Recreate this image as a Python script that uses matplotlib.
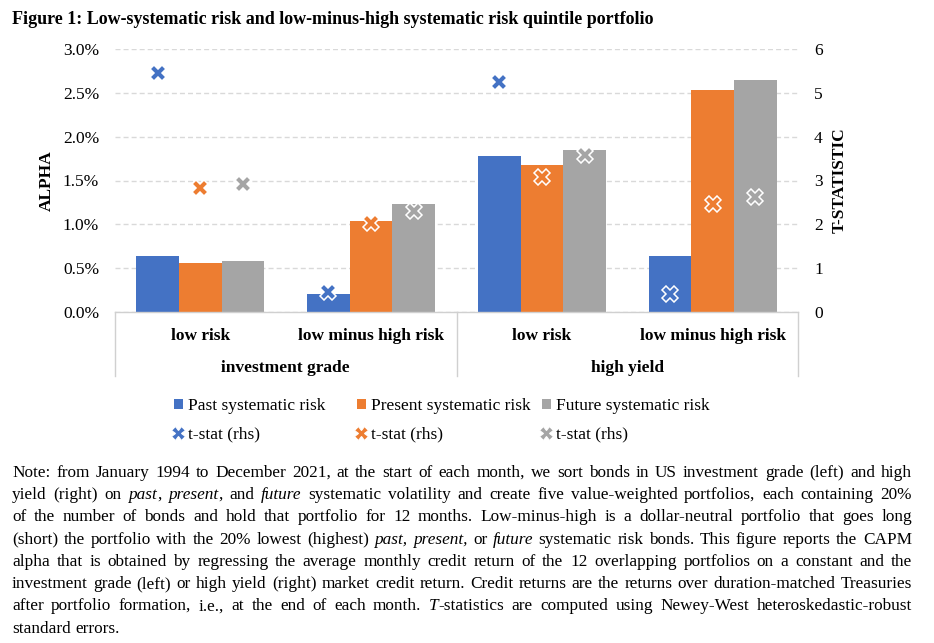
import matplotlib
matplotlib.use('Agg')
import matplotlib.pyplot as plt
from matplotlib.patches import Patch
from matplotlib.lines import Line2D
from matplotlib.transforms import blended_transform_factory
import numpy as np

plt.rcParams['font.family'] = ['Liberation Serif', 'DejaVu Serif']

# ---------------- data ----------------
title = "Figure 1: Low-systematic risk and low-minus-high systematic risk quintile portfolio"
categories = ['low risk', 'low minus high risk', 'low risk', 'low minus high risk']
groups = ['investment grade', 'high yield']
series_names = ['Past systematic risk', 'Present systematic risk', 'Future systematic risk']
alpha_past = [0.64, 0.20, 1.78, 0.64]
alpha_present = [0.56, 1.04, 1.68, 2.53]
alpha_future = [0.585, 1.23, 1.85, 2.645]
tstat_past = [5.45, 0.45, 5.24, 0.41]
tstat_present = [2.82, 2.02, 3.09, 2.47]
tstat_future = [2.93, 2.31, 3.58, 2.62]
tstat_label = 't-stat (rhs)'
alpha_ticks = [0.0, 0.5, 1.0, 1.5, 2.0, 2.5, 3.0]
tstat_ticks = [0, 1, 2, 3, 4, 5, 6]
left_label = 'ALPHA'
right_label = 'T-STATISTIC'
colors = ['#4472C4', '#ED7D31', '#A5A5A5']

# note text: each line is a list of words, each word a list of (segment, italic)
note_lines = [
    "Note: from January 1994 to December 2021, at the start of each month, we sort bonds in US investment grade (left) and high",
    "yield (right) on _past_, _present_, and _future_ systematic volatility and create five value-weighted portfolios, each containing 20%",
    "of the number of bonds and hold that portfolio for 12 months. Low-minus-high is a dollar-neutral portfolio that goes long",
    "(short) the portfolio with the 20% lowest (highest) _past,_ _present,_ or _future_ systematic risk bonds. This figure reports the CAPM",
    "alpha that is obtained by regressing the average monthly credit return of the 12 overlapping portfolios on a constant and the",
    "investment grade (left) or high yield (right) market credit return. Credit returns are the returns over duration-matched Treasuries",
    "after portfolio formation, i.e., at the end of each month. _T_-statistics are computed using Newey-West heteroskedastic-robust",
    "standard errors.",
]

# ---------------- figure ----------------
W, H = 934, 643
fig = plt.figure(figsize=(W / 100, H / 100), dpi=100)
fig.patch.set_facecolor('white')

ax_l, ax_r, ax_t, ax_b = 115, 798, 49, 312
ax = fig.add_axes([ax_l / W, 1 - ax_b / H, (ax_r - ax_l) / W, (ax_b - ax_t) / H])
ax2 = ax.twinx()

x = np.arange(len(categories))
alpha_series = [alpha_past, alpha_present, alpha_future]
tstat_series = [tstat_past, tstat_present, tstat_future]
bw = 0.25
for i, (vals, c) in enumerate(zip(alpha_series, colors)):
    ax.bar(x + (i - 1) * bw, vals, width=bw, color=c, linewidth=0, zorder=2)

for i, (vals, c) in enumerate(zip(tstat_series, colors)):
    ax2.plot(x + (i - 1) * bw, vals, ls='none', marker='X', ms=11.5,
             mfc=c, mec='white', mew=1.1, clip_on=False, zorder=3)

ax.set_xlim(-0.5, len(categories) - 0.5)
ax.set_ylim(alpha_ticks[0], alpha_ticks[-1])
ax2.set_ylim(tstat_ticks[0], tstat_ticks[-1])
ax.set_yticks(alpha_ticks)
ax.set_yticklabels([f"{v:.1f}%" for v in alpha_ticks])
ax2.set_yticks(tstat_ticks)
ax2.set_yticklabels([str(v) for v in tstat_ticks])

fs = 12.5
ax.tick_params(axis='y', length=0, pad=11.5, labelsize=fs)
ax2.tick_params(axis='y', length=0, pad=11.5, labelsize=fs)
ax.tick_params(axis='x', bottom=False, labelbottom=False)
ax2.tick_params(axis='x', bottom=False, labelbottom=False)

ax.set_axisbelow(True)
ax.yaxis.grid(True, color='#d9d9d9', linewidth=1.0, linestyle=(0, (3.6, 2.2)))
ax.xaxis.grid(False)
for s in ['top', 'left', 'right']:
    ax.spines[s].set_visible(False)
for s in ax2.spines.values():
    s.set_visible(False)
ax.spines['bottom'].set_color('#d0d0d0')
ax.spines['bottom'].set_linewidth(1.0)
ax.spines['bottom'].set_zorder(4)

# multi-level category axis
ah = ax_b - ax_t
trans = blended_transform_factory(ax.transData, ax.transAxes)
per_group = len(categories) // len(groups)
bounds = np.arange(len(groups) + 1) * per_group - 0.5
for b in bounds:
    ax.plot([b, b], [0, -64 / ah], transform=trans, color='#d0d0d0', lw=1.0, clip_on=False)
for i, cat in enumerate(categories):
    ax.text(x[i], -28 / ah, cat, transform=trans, ha='center', va='baseline',
            fontsize=fs, fontweight='bold')
for g, name in enumerate(groups):
    cx = np.mean(x[g * per_group:(g + 1) * per_group])
    ax.text(cx, -59.7 / ah, name, transform=trans, ha='center', va='baseline',
            fontsize=fs, fontweight='bold')

# axis titles
yc = 1 - (ax_t + ax_b) / 2 / H
fig.text(47 / W, yc, left_label, rotation=90, ha='center', va='center',
         fontsize=fs, fontweight='bold')
fig.text(840 / W, yc, right_label, rotation=90, ha='center', va='center',
         fontsize=fs, fontweight='bold')

# title
fig.text(12 / W, 1 - 24.5 / H, title, ha='left', va='baseline', fontsize=13, fontweight='bold')

# legends: one per series (square on first row, marker on second row)
leg_x = [174, 357, 542]
for i, (name, c) in enumerate(zip(series_names, colors)):
    handles = [Patch(facecolor=c, edgecolor='none'),
               Line2D([], [], ls='none', marker='X', ms=10, mfc=c, mec='white', mew=0.8)]
    leg = fig.legend(handles, [name, tstat_label], loc='center left',
                     bbox_to_anchor=(leg_x[i] / W, 1 - 420 / H),
                     frameon=False, fontsize=fs, handlelength=0.5, handleheight=0.5,
                     handletextpad=0.3, labelspacing=0.7, borderpad=0, borderaxespad=0)

# note text, justified
note_fs = 12.45
renderer = fig.canvas.get_renderer()
x0, x1 = 12, 912
y_base0, dy = 476.7, 22.3


def parse_word(w):
    segs = []
    parts = w.split('_')
    for k, p in enumerate(parts):
        if p:
            segs.append((p, k % 2 == 1))
    return segs


for li, line in enumerate(note_lines):
    words = [parse_word(w) for w in line.split(' ')]
    yb = 1 - (y_base0 + li * dy) / H
    items = []
    widths = []
    for segs in words:
        wt = []
        tot = 0
        for s, it in segs:
            t = fig.text(0, yb, s, fontsize=note_fs, ha='left', va='baseline',
                         style='italic' if it else 'normal')
            bb = t.get_window_extent(renderer)
            wt.append((t, bb.width))
            tot += bb.width
        items.append(wt)
        widths.append(tot)
    last = li == len(note_lines) - 1
    if last or len(words) < 2:
        gap = fig.text(0, 0, ' ', fontsize=note_fs).get_window_extent(renderer).width
    else:
        gap = (x1 - x0 - sum(widths)) / (len(words) - 1)
    cx = x0
    for wt, tw in zip(items, widths):
        sx = cx
        for t, w in wt:
            t.set_x(sx / W)
            sx += w
        cx += tw + gap

fig.savefig('out.png', dpi=100, facecolor='white')
